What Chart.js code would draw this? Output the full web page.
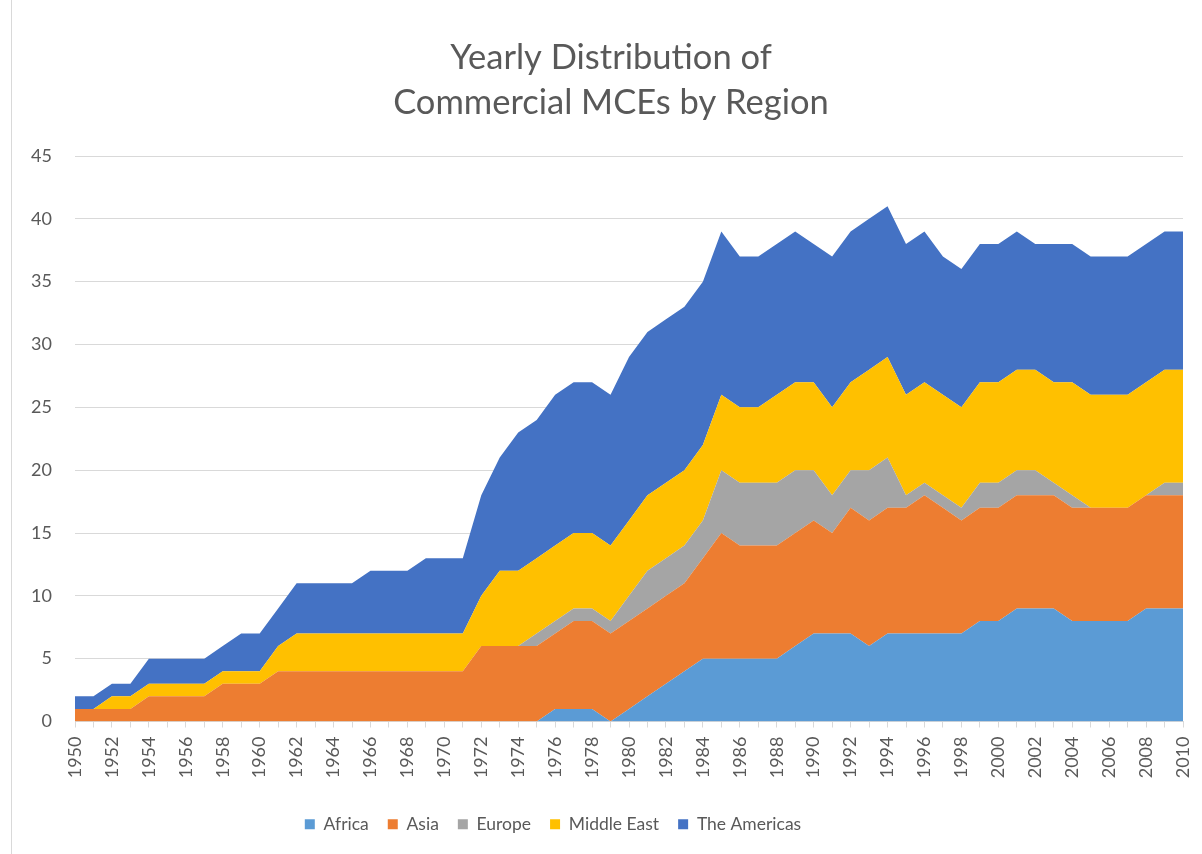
<!DOCTYPE html>
<html>
<head>
<meta charset="utf-8">
<script src="https://cdn.jsdelivr.net/npm/chart.js@4/dist/chart.umd.min.js"></script>
<style>
  html, body { margin: 0; padding: 0; background: #ffffff; }
  #wrap { position: relative; width: 1202px; height: 854px; }
  #edge { position: absolute; left: 11px; top: 0; width: 1px; height: 854px; background: #d9d9d9; }
  canvas { position: absolute; left: 0; top: 0; }
</style>
</head>
<body>
<div id="wrap">
  <div id="edge"></div>
  <canvas id="c" width="1202" height="854"></canvas>
</div>
<script>
const years = [];
for (let y = 1950; y <= 2010; y++) years.push(String(y));

const seriesNames = ['Africa', 'Asia', 'Europe', 'Middle East', 'The Americas'];

const africa = [
  0,0,0,0,0,0,0,0,0,0, 0,0,0,0,0,0,0,0,0,0, 0,0,0,0,0,0,
  1,1,1,0,1,2,3,4,5,5, 5,5,5,6,7,7,7,6,7,7, 7,7,7,8,8,9,9,9,8,8, 8,8,9,9,9
];
const asia = [
  1,1,1,1, 2,2,2,2, 3,3,3,
  4,4,4,4,4,4,4,4,4,4,4,
  6,6,6,6,6,
  7,7,7,7,7,7,7,
  8, 10,
  9,9,9,9,9,
  8,
  10,10,10,10,
  11, 10,
  9,9,9,9,9,9,9,9,9,9,9,9,9
];
const europe = [
  0,0,0,0,0,0,0,0,0,0, 0,0,0,0,0,0,0,0,0,0, 0,0,0,0,0,
  1,1,1,1,1,
  2,
  3,3,3,3,
  5,5,5,5,5,
  4, 3,3, 4,4,
  1,1,1,1,
  2,2,2,2,
  1,1,
  0,0,0,0,
  1,1
];
const middleEast = [
  0,0,
  1,1,1,1,1,1,1,1,1,
  2,
  3,3,3,3,3,3,3,3,3,3,
  4,
  6,6,6,6,6,6,6,6,6,6,6,6,6,6,6,
  7,7,7,7,7,
  8,8,8,8,8,8,8,8,8,8,8,
  9,9,9,9,9,9,9
];
const americas = [
  1,1,1,1,
  2,2,2,2,2,
  3,3,3,
  4,4,4,4,
  5,5,5,
  6,6,6,
  8, 9, 11, 11,
  12,12,12,12,
  13,13,13,13,13,13,
  12,12,12,12,
  11,
  12,12,12,12,12,12,
  11,11,11,11,11,
  10,
  11,11,11,11,11,11,11,11
];
const yTicks = [0, 5, 10, 15, 20, 25, 30, 35, 40, 45];

const colors = ['#5B9BD5', '#ED7D31', '#A5A5A5', '#FFC000', '#4472C4'];
const values = [africa, asia, europe, middleEast, americas];

const FONT = 'Lato, "Open Sans", sans-serif';
const TXT = '#595959';
const GRID = '#d9d9d9';

const datasets = seriesNames.map((name, i) => ({
  label: name,
  data: values[i],
  backgroundColor: colors[i],
  borderColor: 'rgba(0,0,0,0)',
  borderWidth: 0,
  pointRadius: 0,
  pointHoverRadius: 0,
  tension: 0,
  fill: i === 0 ? 'origin' : '-1'
}));

// Nudge title and legend horizontally to match the reference placement
const boxShift = {
  id: 'boxShift',
  afterLayout(chart) {
    const lg = chart.legend;
    if (lg) { lg.left -= 53; lg.right -= 53; }
    const tb = chart.titleBlock;
    if (tb) { tb.left += 5; tb.right += 5; }
  }
};

new Chart(document.getElementById('c'), {
  type: 'line',
  data: { labels: years, datasets },
  plugins: [boxShift],
  options: {
    responsive: false,
    animation: false,
    events: [],
    layout: { padding: { top: 20, left: 29, right: 19, bottom: 11 } },
    plugins: {
      title: {
        display: true,
        text: ['Yearly Distribution of', 'Commercial MCEs by Region'],
        color: TXT,
        font: { family: FONT, size: 34.5, weight: 'normal', lineHeight: '45px' },
        padding: { top: 15.5, bottom: 30.5 }
      },
      legend: {
        display: true,
        position: 'bottom',
        labels: {
          color: TXT,
          font: { family: FONT, size: 17.5 },
          boxWidth: 10,
          boxHeight: 10,
          padding: 19
        }
      },
      tooltip: { enabled: false },
      filler: { propagate: false }
    },
    scales: {
      x: {
        type: 'category',
        offset: false,
        grid: {
          display: true,
          drawOnChartArea: false,
          drawTicks: true,
          tickLength: 6,
          color: GRID,
          offset: false
        },
        border: { display: true, color: GRID, width: 1 },
        ticks: {
          autoSkip: false,
          maxRotation: 90,
          minRotation: 90,
          padding: 9,
          color: TXT,
          font: { family: FONT, size: 18 },
          callback: function (v, idx) { return idx % 2 === 0 ? this.getLabelForValue(v) : ''; }
        },
        afterFit: s => { s.height = 75; s.paddingLeft = 0; s.paddingRight = 0; }
      },
      y: {
        stacked: true,
        min: 0,
        max: 45,
        afterBuildTicks: s => { s.ticks = yTicks.map(v => ({ value: v })); },
        grid: { color: GRID, drawTicks: false, lineWidth: 1 },
        border: { display: false },
        ticks: {
          color: TXT,
          padding: 23,
          font: { family: FONT, size: 18 }
        },
        afterFit: s => { s.width = 46; }
      }
    }
  }
});
</script>
</body>
</html>
